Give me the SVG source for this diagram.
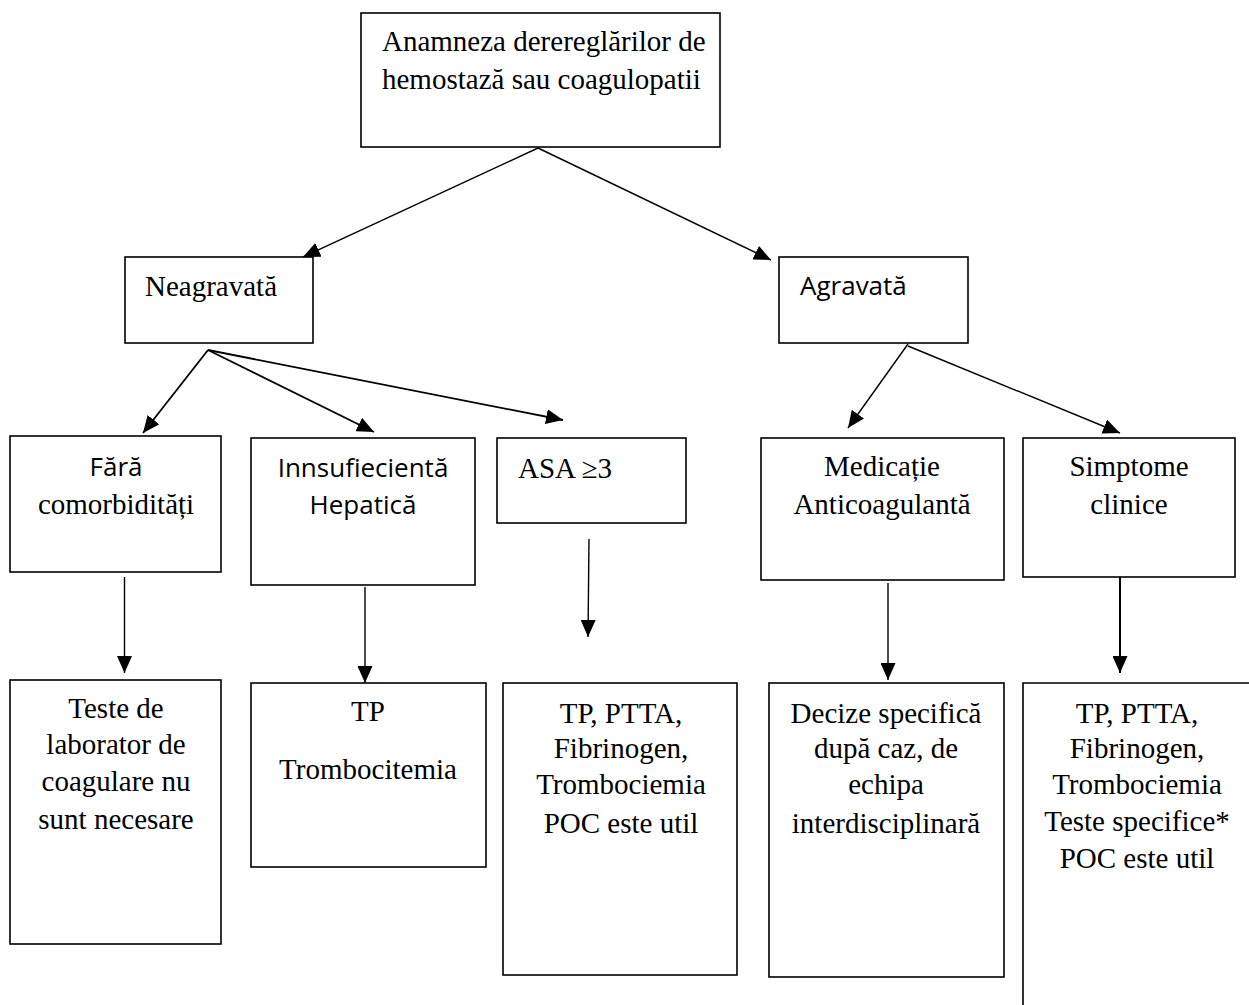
<svg xmlns="http://www.w3.org/2000/svg" width="1249" height="1005" viewBox="0 0 1249 1005">
<defs>
<marker id="ah" markerUnits="userSpaceOnUse" markerWidth="17" markerHeight="15" refX="17" refY="7.5" orient="auto">
<path d="M0,0 L17,7.5 L0,15 z" fill="#000"/>
</marker>
<style>
.box{fill:#fff;stroke:#000;stroke-width:1.6}
.edge{fill:none;stroke:#000;stroke-width:1.4;marker-end:url(#ah)}
.s{font-family:"Liberation Serif","Times New Roman",serif;font-size:29px;fill:#000}
.ss{font-family:"Open Sans","Liberation Sans",sans-serif;font-size:26px;fill:#000}
.c{text-anchor:middle}
</style>
</defs>
<rect width="1249" height="1005" fill="#fff"/>
<g id="connectors">
<line class="edge" x1="538" y1="148" x2="303" y2="257"/>
<line class="edge" x1="538" y1="148" x2="771" y2="260"/>
<line class="edge" x1="208" y1="350" x2="143" y2="433" style="stroke-width:1.8"/>
<line class="edge" x1="208" y1="350" x2="374" y2="432" style="stroke-width:1.8"/>
<line class="edge" x1="208" y1="350" x2="563" y2="420" style="stroke-width:1.8"/>
<line class="edge" x1="908" y1="344" x2="848" y2="428"/>
<line class="edge" x1="908" y1="346" x2="1120" y2="433"/>
<line class="edge" x1="124.5" y1="577" x2="124.5" y2="673"/>
<line class="edge" x1="365" y1="587" x2="365" y2="683"/>
<line class="edge" x1="589" y1="539" x2="588" y2="637"/>
<line class="edge" x1="888" y1="583" x2="888" y2="680"/>
<line class="edge" x1="1120" y1="577" x2="1120" y2="673" style="stroke-width:2"/>
</g>
<g id="n-top">
<rect class="box" x="361" y="13" width="359" height="134"/>
<text class="s" x="382" y="51">Anamneza derereglărilor de</text>
<text class="s" x="382" y="89">hemostază sau coagulopatii</text>
</g>
<g id="n-neagravata">
<rect class="box" x="125" y="257" width="188" height="86"/>
<text class="s" x="145" y="296">Neagravată</text>
</g>
<g id="n-agravata">
<rect class="box" x="779" y="257" width="189" height="86"/>
<text class="ss" x="800" y="295">Agravată</text>
</g>
<g id="n-fara">
<rect class="box" x="10" y="436" width="211" height="136"/>
<text class="ss c" x="116" y="476">Fără</text>
<text class="s c" x="116" y="514">comorbidități</text>
</g>
<g id="n-innsuf">
<rect class="box" x="251" y="438" width="224" height="147"/>
<text class="ss c" x="363" y="477">Innsufiecientă</text>
<text class="ss c" x="363" y="514">Hepatică</text>
</g>
<g id="n-asa">
<rect class="box" x="497" y="438" width="189" height="85"/>
<text class="s" x="518" y="478">ASA ≥3</text>
</g>
<g id="n-medicatie">
<rect class="box" x="761" y="438" width="243" height="142"/>
<text class="s c" x="882" y="476">Medicație</text>
<text class="s c" x="882" y="514">Anticoagulantă</text>
</g>
<g id="n-simptome">
<rect class="box" x="1023" y="438" width="212" height="139"/>
<text class="s c" x="1129" y="476">Simptome</text>
<text class="s c" x="1129" y="514">clinice</text>
</g>
<g id="n-teste">
<rect class="box" x="10" y="680" width="211" height="264"/>
<text class="s c" x="116" y="718">Teste de</text>
<text class="s c" x="116" y="754">laborator de</text>
<text class="s c" x="116" y="791">coagulare nu</text>
<text class="s c" x="116" y="829">sunt necesare</text>
</g>
<g id="n-tp">
<rect class="box" x="251" y="683" width="235" height="184"/>
<text class="s c" x="368" y="721">TP</text>
<text class="s c" x="368" y="779">Trombocitemia</text>
</g>
<g id="n-asa-tests">
<rect class="box" x="503" y="683" width="234" height="292"/>
<text class="s c" x="621" y="723">TP, PTTA,</text>
<text class="s c" x="621" y="758">Fibrinogen,</text>
<text class="s c" x="621" y="794">Trombociemia</text>
<text class="s c" x="621" y="833">POC este util</text>
</g>
<g id="n-decize">
<rect class="box" x="769" y="683" width="235" height="294"/>
<text class="s c" x="886" y="723">Decize specifică</text>
<text class="s c" x="886" y="758">după caz, de</text>
<text class="s c" x="886" y="794">echipa</text>
<text class="s c" x="886" y="833">interdisciplinară</text>
</g>
<g id="n-simptome-tests">
<path class="box" d="M1249,683 H1023 V1005" style="fill:none"/>
<text class="s c" x="1137" y="723">TP, PTTA,</text>
<text class="s c" x="1137" y="758">Fibrinogen,</text>
<text class="s c" x="1137" y="794">Trombociemia</text>
<text class="s c" x="1137" y="831">Teste specifice*</text>
<text class="s c" x="1137" y="868">POC este util</text>
</g>
</svg>
